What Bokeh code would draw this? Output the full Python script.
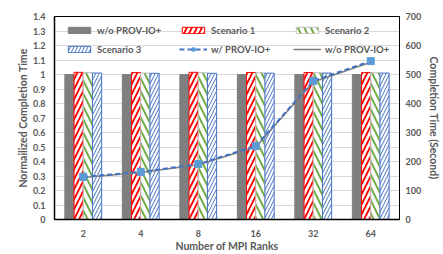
from bokeh.plotting import figure
from bokeh.models import (Range1d, LinearAxis, FixedTicker, CustomJSTickFormatter,
                          Legend, LegendItem, FactorRange, ColumnDataSource)
from bokeh.transform import dodge
from bokeh.embed import file_html
from bokeh.resources import INLINE

ranks = ["2", "4", "8", "16", "32", "64"]
baseline = [1.0, 1.0, 1.0, 1.0, 1.0, 1.0]
scenario1 = [1.015, 1.013, 1.015, 1.014, 1.014, 1.013]
scenario2 = [1.013, 1.010, 1.012, 1.012, 1.012, 1.012]
scenario3 = [1.010, 1.008, 1.008, 1.009, 1.010, 1.010]
with_prov_sec = [147, 164, 191, 253, 478, 546]
without_prov_sec = [145, 162, 189, 250, 474, 542]
left_ticks = [0, 0.1, 0.2, 0.3, 0.4, 0.5, 0.6, 0.7, 0.8, 0.9, 1.0, 1.1, 1.2, 1.3, 1.4]
right_ticks = [0, 100, 200, 300, 400, 500, 600, 700]

FONT = "Lato"
TXT = "#595959"

p = figure(width=443, height=254, x_range=FactorRange(*ranks), y_range=Range1d(0, 1.4),
           output_backend="svg", toolbar_location=None,
           min_border_left=54, min_border_right=44, min_border_top=16, min_border_bottom=33)
p.extra_y_ranges = {"sec": Range1d(0, 700)}

source = ColumnDataSource(dict(x=ranks, b=baseline, s1=scenario1, s2=scenario2, s3=scenario3,
                               w=with_prov_sec, wo=without_prov_sec))

W = 0.16
r0 = p.vbar(x=dodge("x", -0.24, range=p.x_range), top="b", width=W, source=source,
            fill_color="#7F7F7F", line_color="#7F7F7F")
r1 = p.vbar(x=dodge("x", -0.08, range=p.x_range), top="s1", width=W, source=source,
            fill_color="white", line_color="#FF0000", line_width=1,
            hatch_pattern="/", hatch_color="#FF0000", hatch_scale=10, hatch_weight=1.8)
r2 = p.vbar(x=dodge("x", 0.08, range=p.x_range), top="s2", width=W, source=source,
            fill_color="white", line_color="#BFBFBF", line_width=1,
            hatch_pattern="\\", hatch_color="#70AD47", hatch_scale=13, hatch_weight=2)
r3 = p.vbar(x=dodge("x", 0.24, range=p.x_range), top="s3", width=W, source=source,
            fill_color="white", line_color="#4472C4", line_width=1,
            hatch_pattern="/", hatch_color="#4472C4", hatch_scale=7, hatch_weight=1)

l_wo = p.line(x="x", y="wo", source=source, y_range_name="sec",
              line_color="#7F7F7F", line_width=1.5)
l_w = p.line(x="x", y="w", source=source, y_range_name="sec",
             line_color="#4472C4", line_width=2, line_dash="5 3")
m_w = p.scatter(x="x", y="w", source=source, y_range_name="sec", marker="square",
                size=7, fill_color="#5B9BD5", line_color="#5B9BD5")


def style_axis(ax, line_width):
    ax.major_tick_line_color = None
    ax.minor_tick_line_color = None
    ax.major_tick_out = 0
    ax.minor_tick_out = 0
    ax.major_tick_in = 0
    ax.axis_line_color = "#000000"
    ax.axis_line_width = line_width
    ax.major_label_text_font = FONT
    ax.major_label_text_font_style = "bold"
    ax.major_label_text_font_size = "9px"
    ax.major_label_text_color = TXT
    ax.axis_label_text_font = FONT
    ax.axis_label_text_font_style = "bold"
    ax.axis_label_text_font_size = "10.5px"
    ax.axis_label_text_color = TXT


style_axis(p.xaxis[0], 1.5)
style_axis(p.yaxis[0], 1.5)

p.xaxis[0].axis_label = "Number of MPI Ranks"
p.xaxis[0].major_label_standoff = 10
p.xaxis[0].axis_label_standoff = 0

p.yaxis[0].axis_label = "Normailized Completion Time"
p.yaxis[0].ticker = FixedTicker(ticks=left_ticks)
p.yaxis[0].formatter = CustomJSTickFormatter(code="return String(Math.round(tick*10)/10)")
p.yaxis[0].major_label_standoff = 9
p.yaxis[0].axis_label_standoff = 1

ra = LinearAxis(y_range_name="sec", axis_label="Completion Time (Second)",
                ticker=FixedTicker(ticks=right_ticks))
style_axis(ra, 1)
ra.major_label_standoff = 6
ra.axis_label_standoff = 4
p.add_layout(ra, "right")

p.xgrid.grid_line_color = None
p.ygrid.ticker = FixedTicker(ticks=left_ticks)
p.ygrid.grid_line_color = "#D9D9D9"
p.ygrid.grid_line_width = 1

p.outline_line_color = "#000000"
p.outline_line_width = 1
p.background_fill_color = "white"
p.border_fill_color = "white"

legend = Legend(items=[
    LegendItem(label="w/o PROV-IO+", renderers=[r0]),
    LegendItem(label="Scenario 1", renderers=[r1]),
    LegendItem(label="Scenario 2", renderers=[r2]),
    LegendItem(label="Scenario 3", renderers=[r3]),
    LegendItem(label="w/ PROV-IO+", renderers=[l_w, m_w]),
    LegendItem(label="w/o PROV-IO+", renderers=[l_wo]),
], location=(11, 164), orientation="horizontal", ncols=3)
legend.background_fill_alpha = 0
legend.border_line_color = None
legend.padding = 0
legend.margin = 0
legend.spacing = 7
legend.glyph_width = 28
legend.glyph_height = 8
legend.label_height = 12
legend.label_width = 75
legend.label_standoff = 4
legend.label_text_font = FONT
legend.label_text_font_style = "bold"
legend.label_text_font_size = "9.5px"
legend.label_text_color = TXT
p.add_layout(legend, "center")

open("out.html", "w").write(file_html(p, INLINE))
